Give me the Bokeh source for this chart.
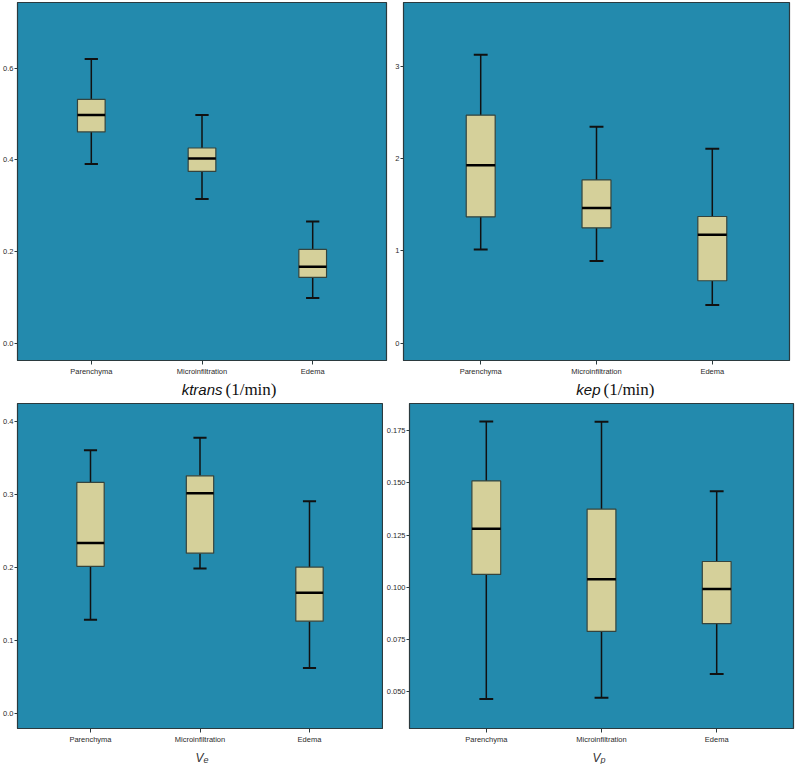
from bokeh.plotting import figure
from bokeh.models import Range1d, FixedTicker, ColumnDataSource, NumeralTickFormatter
from bokeh.core.properties import value
from bokeh.layouts import column, row
from bokeh.embed import file_html
from bokeh.resources import INLINE
import numpy as np

categories = ["Parenchyma", "Microinfiltration", "Edema"]
positions = [1, 2, 3]

# ktrans (1/min)
ktrans_low = [0.391, 0.315, 0.099]
ktrans_q1 = [0.461, 0.375, 0.144]
ktrans_median = [0.498, 0.403, 0.167]
ktrans_q3 = [0.532, 0.426, 0.205]
ktrans_high = [0.620, 0.498, 0.266]
ktrans_yrange = [-0.037, 0.743]
ktrans_ticks = [0.0, 0.2, 0.4, 0.6]

# kep (1/min)
kep_low = [1.015, 0.889, 0.413]
kep_q1 = [1.368, 1.249, 0.676]
kep_median = [1.926, 1.465, 1.173]
kep_q3 = [2.470, 1.768, 1.372]
kep_high = [3.123, 2.345, 2.107]
kep_yrange = [-0.188, 3.69]
kep_ticks = [0, 1, 2, 3]

# Ve
ve_low = [0.128, 0.198, 0.062]
ve_q1 = [0.201, 0.219, 0.126]
ve_median = [0.233, 0.301, 0.165]
ve_q3 = [0.316, 0.325, 0.200]
ve_high = [0.360, 0.377, 0.290]
ve_yrange = [-0.021, 0.424]
ve_ticks = [0.0, 0.1, 0.2, 0.3, 0.4]

# Vp
vp_low = [0.0464, 0.0470, 0.0584]
vp_q1 = [0.1061, 0.0788, 0.0825]
vp_median = [0.1280, 0.1038, 0.0991]
vp_q3 = [0.1509, 0.1374, 0.1123]
vp_high = [0.1794, 0.1792, 0.1460]
vp_yrange = [0.0323, 0.188]
vp_ticks = [0.050, 0.075, 0.100, 0.125, 0.150, 0.175]

BG = "#238AAD"
BOX = "#D5D09A"
DARK = "#2B3A3E"
TICKFONT = "Liberation Sans"


def make_panel(low, q1, med, q3, high, yr, ticks, fmt, width, height,
               bl, br, bt, bb):
    p = figure(width=width, height=height, output_backend="svg",
               toolbar_location=None, title=None,
               x_range=Range1d(0.3333, 3.6667),
               y_range=Range1d(yr[0], yr[1]),
               min_border_left=bl, min_border_right=br,
               min_border_top=bt, min_border_bottom=bb)
    p.background_fill_color = BG
    p.border_fill_color = "white"
    p.outline_line_color = DARK
    p.outline_line_width = 1.2
    p.xgrid.visible = False
    p.ygrid.visible = False

    x = np.array(positions, dtype=float)
    src = ColumnDataSource(dict(x=x, low=low, q1=q1, med=med, q3=q3, high=high,
                                cl=x - 0.06, cr=x + 0.06,
                                ml=x - 0.125, mr=x + 0.125))
    p.segment(x0="x", y0="low", x1="x", y1="q1", source=src,
              line_color="#111111", line_width=1.5)
    p.segment(x0="x", y0="q3", x1="x", y1="high", source=src,
              line_color="#111111", line_width=1.5)
    p.segment(x0="cl", y0="low", x1="cr", y1="low", source=src,
              line_color="#111111", line_width=2)
    p.segment(x0="cl", y0="high", x1="cr", y1="high", source=src,
              line_color="#111111", line_width=2)
    p.vbar(x="x", bottom="q1", top="q3", width=0.25, source=src,
           fill_color=BOX, line_color="#34443E", line_width=1.2)
    p.segment(x0="ml", y0="med", x1="mr", y1="med", source=src,
              line_color="#000000", line_width=2.5)

    p.xaxis.ticker = FixedTicker(ticks=positions)
    p.xaxis.major_label_overrides = {pos: c for pos, c in zip(positions, categories)}
    p.yaxis.ticker = FixedTicker(ticks=ticks)
    p.yaxis.formatter = NumeralTickFormatter(format=fmt)
    for ax in (p.xaxis[0], p.yaxis[0]):
        ax.axis_line_color = DARK
        ax.major_tick_line_color = DARK
        ax.major_tick_in = 0
        ax.minor_tick_line_color = None
        ax.major_label_text_font = TICKFONT
        ax.major_label_text_font_size = "7.5px"
        ax.major_label_text_color = "#2a2a2a"
    p.yaxis.major_tick_out = 3
    p.yaxis.major_label_standoff = 1
    p.xaxis.major_tick_out = 4
    p.xaxis.major_label_standoff = 2
    return p


def title_fig(width, height):
    t = figure(width=width, height=height, output_backend="svg", title=None,
               toolbar_location=None, x_axis_type=None, y_axis_type=None,
               x_range=Range1d(0, width), y_range=Range1d(0, height),
               min_border=0, tools="")
    t.outline_line_color = None
    t.background_fill_color = "white"
    t.border_fill_color = "white"
    t.xgrid.visible = False
    t.ygrid.visible = False
    return t


p1 = make_panel(ktrans_low, ktrans_q1, ktrans_median, ktrans_q3, ktrans_high,
                ktrans_yrange, ktrans_ticks, "0.0", 392, 378, 17, 6, 2, 18)
p2 = make_panel(kep_low, kep_q1, kep_median, kep_q3, kep_high,
                kep_yrange, kep_ticks, "0", 403, 378, 11, 6, 2, 18)
p3 = make_panel(ve_low, ve_q1, ve_median, ve_q3, ve_high,
                ve_yrange, ve_ticks, "0.0", 383, 346, 17, 1, 3, 15)
p4 = make_panel(vp_low, vp_q1, vp_median, vp_q3, vp_high,
                vp_yrange, vp_ticks, "0.000", 412, 346, 23, 2, 3, 15)

# titles under the top panels
t1 = title_fig(392, 22)
t1.text(x=[222], y=[11], text=["ktrans"], text_font=value("Liberation Sans"),
        text_font_style="italic", text_font_size="15px", text_align="right",
        text_baseline="middle", text_color="#111111")
t1.text(x=[225], y=[11], text=["(1/min)"], text_font=value("Liberation Serif"),
        text_font_size="17px", text_align="left",
        text_baseline="middle", text_color="#111111")

t2 = title_fig(403, 22)
t2.text(x=[208], y=[11], text=["kep"], text_font=value("Liberation Sans"),
        text_font_style="italic", text_font_size="15px", text_align="right",
        text_baseline="middle", text_color="#111111")
t2.text(x=[211], y=[11], text=["(1/min)"], text_font=value("Liberation Serif"),
        text_font_size="17px", text_align="left",
        text_baseline="middle", text_color="#111111")

# titles under the bottom panels
t3 = title_fig(383, 18)
t3.text(x=[203], y=[7], text=["V"], text_font=value("Liberation Sans"),
        text_font_style="italic", text_font_size="12px", text_align="right",
        text_baseline="alphabetic", text_color="#333333")
t3.text(x=[203], y=[5], text=["e"], text_font=value("Liberation Sans"),
        text_font_style="italic", text_font_size="9px", text_align="left",
        text_baseline="alphabetic", text_color="#333333")

t4 = title_fig(412, 18)
t4.text(x=[217], y=[7], text=["V"], text_font=value("Liberation Sans"),
        text_font_style="italic", text_font_size="12px", text_align="right",
        text_baseline="alphabetic", text_color="#333333")
t4.text(x=[217], y=[5], text=["p"], text_font=value("Liberation Sans"),
        text_font_style="italic", text_font_size="9px", text_align="left",
        text_baseline="alphabetic", text_color="#333333")

layout = column(row(p1, p2, spacing=0), row(t1, t2, spacing=0),
                row(p3, p4, spacing=0), row(t3, t4, spacing=0), spacing=0)

with open("out.html", "w") as f:
    f.write(file_html(layout, INLINE))
